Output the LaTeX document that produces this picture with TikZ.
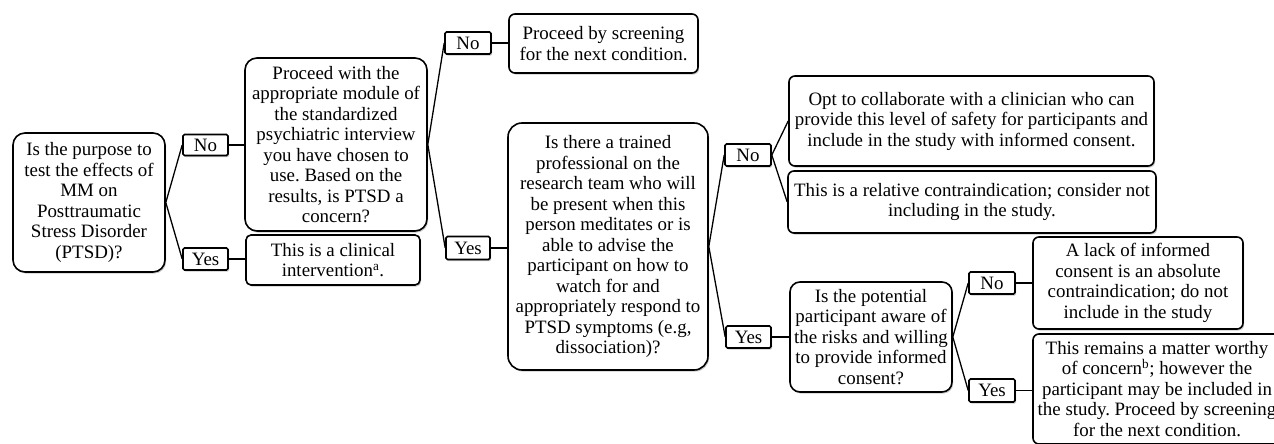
\documentclass[tikz,border=0pt]{standalone}
\usepackage{fontspec}
\setmainfont{Liberation Serif}
\usetikzlibrary{shadows}
\frenchspacing
\begin{document}
\begin{tikzpicture}[x=1pt,y=-1pt,
  every node/.style={font=\fontsize{18.9}{20.5}\selectfont},
  shad/.style={drop shadow={shadow xshift=1.2pt,shadow yshift=-1.6pt,opacity=0.3,fill=black!70}},
  bigbox/.style={draw,line width=1.6pt,rounded corners=12pt,align=center,inner sep=1pt,fill=white,shad},
  flatbox/.style={bigbox,rounded corners=6pt},
  lab/.style={draw,line width=1.6pt,rounded corners=1.5pt,inner sep=0pt,fill=white,minimum width=45pt,minimum height=22pt,shad},
  conn/.style={line width=1.3pt}]
\useasboundingbox (0,0) rectangle (1274,444);
\clip (0,0) rectangle (1274,444);
% nodes
\node[bigbox,minimum width=152pt,minimum height=139pt] (A) at (89,202.5)
  {Is the purpose to\\test the effects of\\MM on\\Posttraumatic\\Stress Disorder\\(PTSD)?};
\node[lab,minimum height=21pt] (no1) at (205.5,145) {No};
\node[lab] (yes1) at (205.5,259) {Yes};
\node[bigbox,minimum width=182pt,minimum height=173pt] (B) at (336,144.5)
  {Proceed with the\\appropriate module of\\the standardized\\psychiatric interview\\you have chosen to\\use. Based on the\\results, is PTSD a\\concern?};
\node[flatbox,rounded corners=5pt,minimum width=174pt,minimum height=50pt] (C) at (333,260)
  {This is a clinical\\intervention\textsuperscript{a}.};
\node[lab,minimum width=46pt] (no2) at (468,43) {No};
\node[flatbox,minimum width=189pt,minimum height=59pt] (D) at (603.5,43.5)
  {Proceed by screening\\for the next condition.};
\node[lab,minimum width=44pt,minimum height=23pt] (yes2) at (468,248) {Yes};
\node[bigbox,rounded corners=14pt,minimum width=200pt,minimum height=247pt] (E) at (608,246.5)
  {Is there a trained\\professional on the\\research team who will\\be present when this\\person meditates or is\\able to advise the\\participant on how to\\watch for and\\appropriately respond to\\PTSD symptoms (e.g,\\dissociation)?};
\node[lab,minimum width=46pt] (no3) at (748,155) {No};
\node[flatbox,minimum width=365pt,minimum height=90pt] (F) at (971.5,121)
  {Opt to collaborate with a clinician who can\\provide this level of safety for participants and\\include in the study with informed consent.};
\node[flatbox,minimum width=368pt,minimum height=62pt] (G) at (972,202)
  {This is a relative contraindication; consider not\\including in the study.};
\node[lab] (yes3) at (748.5,337) {Yes};
\node[bigbox,rounded corners=10pt,minimum width=162pt,minimum height=110pt] (H) at (871,337)
  {Is the potential\\participant aware of\\the risks and willing\\to provide informed\\consent?};
\node[lab,minimum width=46pt] (no4) at (992,283) {No};
\node[lab,minimum width=46pt,minimum height=23pt] (yes4) at (992,390.5) {Yes};
\node[flatbox,minimum width=210pt,minimum height=92pt] (I) at (1138,283)
  {A lack of informed\\consent is an absolute\\contraindication; do not\\include in the study};
\node[flatbox,minimum width=248pt,minimum height=110pt] (J) at (1157,389)
  {This remains a matter worthy\\of concern\textsuperscript{b}; however the\\participant may be included in\\the study. Proceed by screening\\for the next condition.};
% connectors
\draw[conn] (A.east) -- (no1.west);
\draw[conn] (A.east) -- (yes1.west);
\draw[conn] (no1.east) -- (no1.east -| B.west);
\draw[conn] (yes1.east) -- (yes1.east -| C.west);
\draw[conn] (B.east) -- (no2.west);
\draw[conn] (B.east) -- (yes2.west);
\draw[conn] (no2.east) -- (no2.east -| D.west);
\draw[conn] (yes2.east) -- (yes2.east -| E.west);
\draw[conn] (E.east) -- (no3.west);
\draw[conn] (E.east) -- (yes3.west);
\draw[conn] (no3.east) -- (F.west);
\draw[conn] (no3.east) -- (G.west);
\draw[conn] (yes3.east) -- (yes3.east -| H.west);
\draw[conn] (H.east) -- (no4.west);
\draw[conn] (H.east) -- (yes4.west);
\draw[conn] (no4.east) -- (no4.east -| I.west);
\draw[conn] (yes4.east) -- (yes4.east -| J.west);
\end{tikzpicture}
\end{document}
